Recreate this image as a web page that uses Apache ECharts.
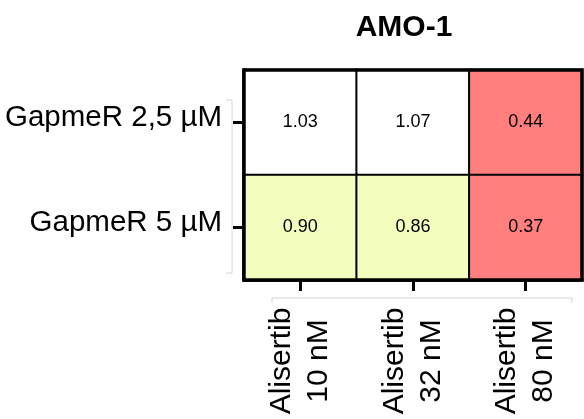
<!DOCTYPE html>
<html>
<head>
<meta charset="utf-8">
<script src="https://cdn.jsdelivr.net/npm/echarts@6/dist/echarts.min.js"></script>
<style>
  html, body { margin: 0; padding: 0; background: #fff; }
  #chart { width: 584px; height: 419px; }
</style>
</head>
<body>
<div id="chart"></div>
<script>
// Drug combinations (columns) and GapmeR doses (rows)
const treatments = ['Alisertib\n10 nM', 'Alisertib\n32 nM', 'Alisertib\n80 nM'];
const gapmerDoses = ['GapmeR 2,5 µM', 'GapmeR 5 µM'];
const row25 = [1.03, 1.07, 0.44];
const row5 = [0.90, 0.86, 0.37];
const title = 'AMO-1';

const rows = [row25, row5];
const cells = [];
rows.forEach((vals, r) => vals.forEach((v, c) => cells.push([c, r, v])));

const chart = echarts.init(document.getElementById('chart'), null, { renderer: 'canvas' });
const FONT = 'Liberation Sans, Arial, sans-serif';

chart.setOption({
  animation: false,
  backgroundColor: '#fff',
  title: {
    text: title,
    left: 399,
    top: 8,
    textAlign: 'center',
    textStyle: { fontFamily: FONT, fontSize: 30, fontWeight: 'bold', color: '#000' }
  },
  grid: {
    left: 244, right: 2, top: 70, bottom: 139,
    outerBoundsMode: 'none',
    containLabel: false,
    show: true, z: 10,
    backgroundColor: 'transparent',
    borderColor: '#000', borderWidth: 3.5
  },
  xAxis: {
    type: 'category',
    data: treatments,
    position: 'bottom',
    axisLine: { show: true, lineStyle: { color: '#000', width: 3.5 } },
    axisTick: { show: true, alignWithLabel: true, length: 11, lineStyle: { color: '#000', width: 3 } },
    axisLabel: {
      rotate: 90,
      align: 'center',
      verticalAlign: 'middle',
      margin: 81,
      fontFamily: FONT,
      fontSize: 30,
      lineHeight: 37,
      color: '#000'
    },
    splitLine: { show: false }
  },
  yAxis: {
    type: 'category',
    data: gapmerDoses,
    inverse: true,
    axisLine: { show: true, lineStyle: { color: '#000', width: 3.5 } },
    axisTick: { show: true, alignWithLabel: true, length: 11, lineStyle: { color: '#000', width: 3 } },
    axisLabel: {
      margin: 22,
      fontFamily: FONT,
      fontSize: 29.5,
      color: '#000',
      verticalAlign: 'bottom',
      lineHeight: 10
    },
    splitLine: { show: false }
  },
  visualMap: {
    show: false,
    type: 'piecewise',
    dimension: 2,
    pieces: [
      { lt: 0.5, color: '#FF7F7F' },
      { gte: 0.5, lt: 1, color: '#F3FDBE' },
      { gte: 1, color: '#FFFFFF' }
    ]
  },
  series: [{
    type: 'heatmap',
    data: cells,
    itemStyle: { borderColor: '#000', borderWidth: 2 },
    label: {
      show: true,
      formatter: p => p.value[2].toFixed(2),
      fontFamily: FONT,
      fontSize: 18,
      color: '#000'
    },
    emphasis: { disabled: true }
  }],
  graphic: [
    // light brackets beside the axes
    {
      type: 'polyline',
      shape: { points: [[226, 100], [232, 100], [232, 273], [226, 273]] },
      style: { stroke: '#d4d4d4', lineWidth: 1, fill: null }
    },
    {
      type: 'polyline',
      shape: { points: [[272, 303], [272, 298], [572, 298], [572, 303]] },
      style: { stroke: '#d4d4d4', lineWidth: 1, fill: null }
    }
  ]
});
</script>
</body>
</html>
